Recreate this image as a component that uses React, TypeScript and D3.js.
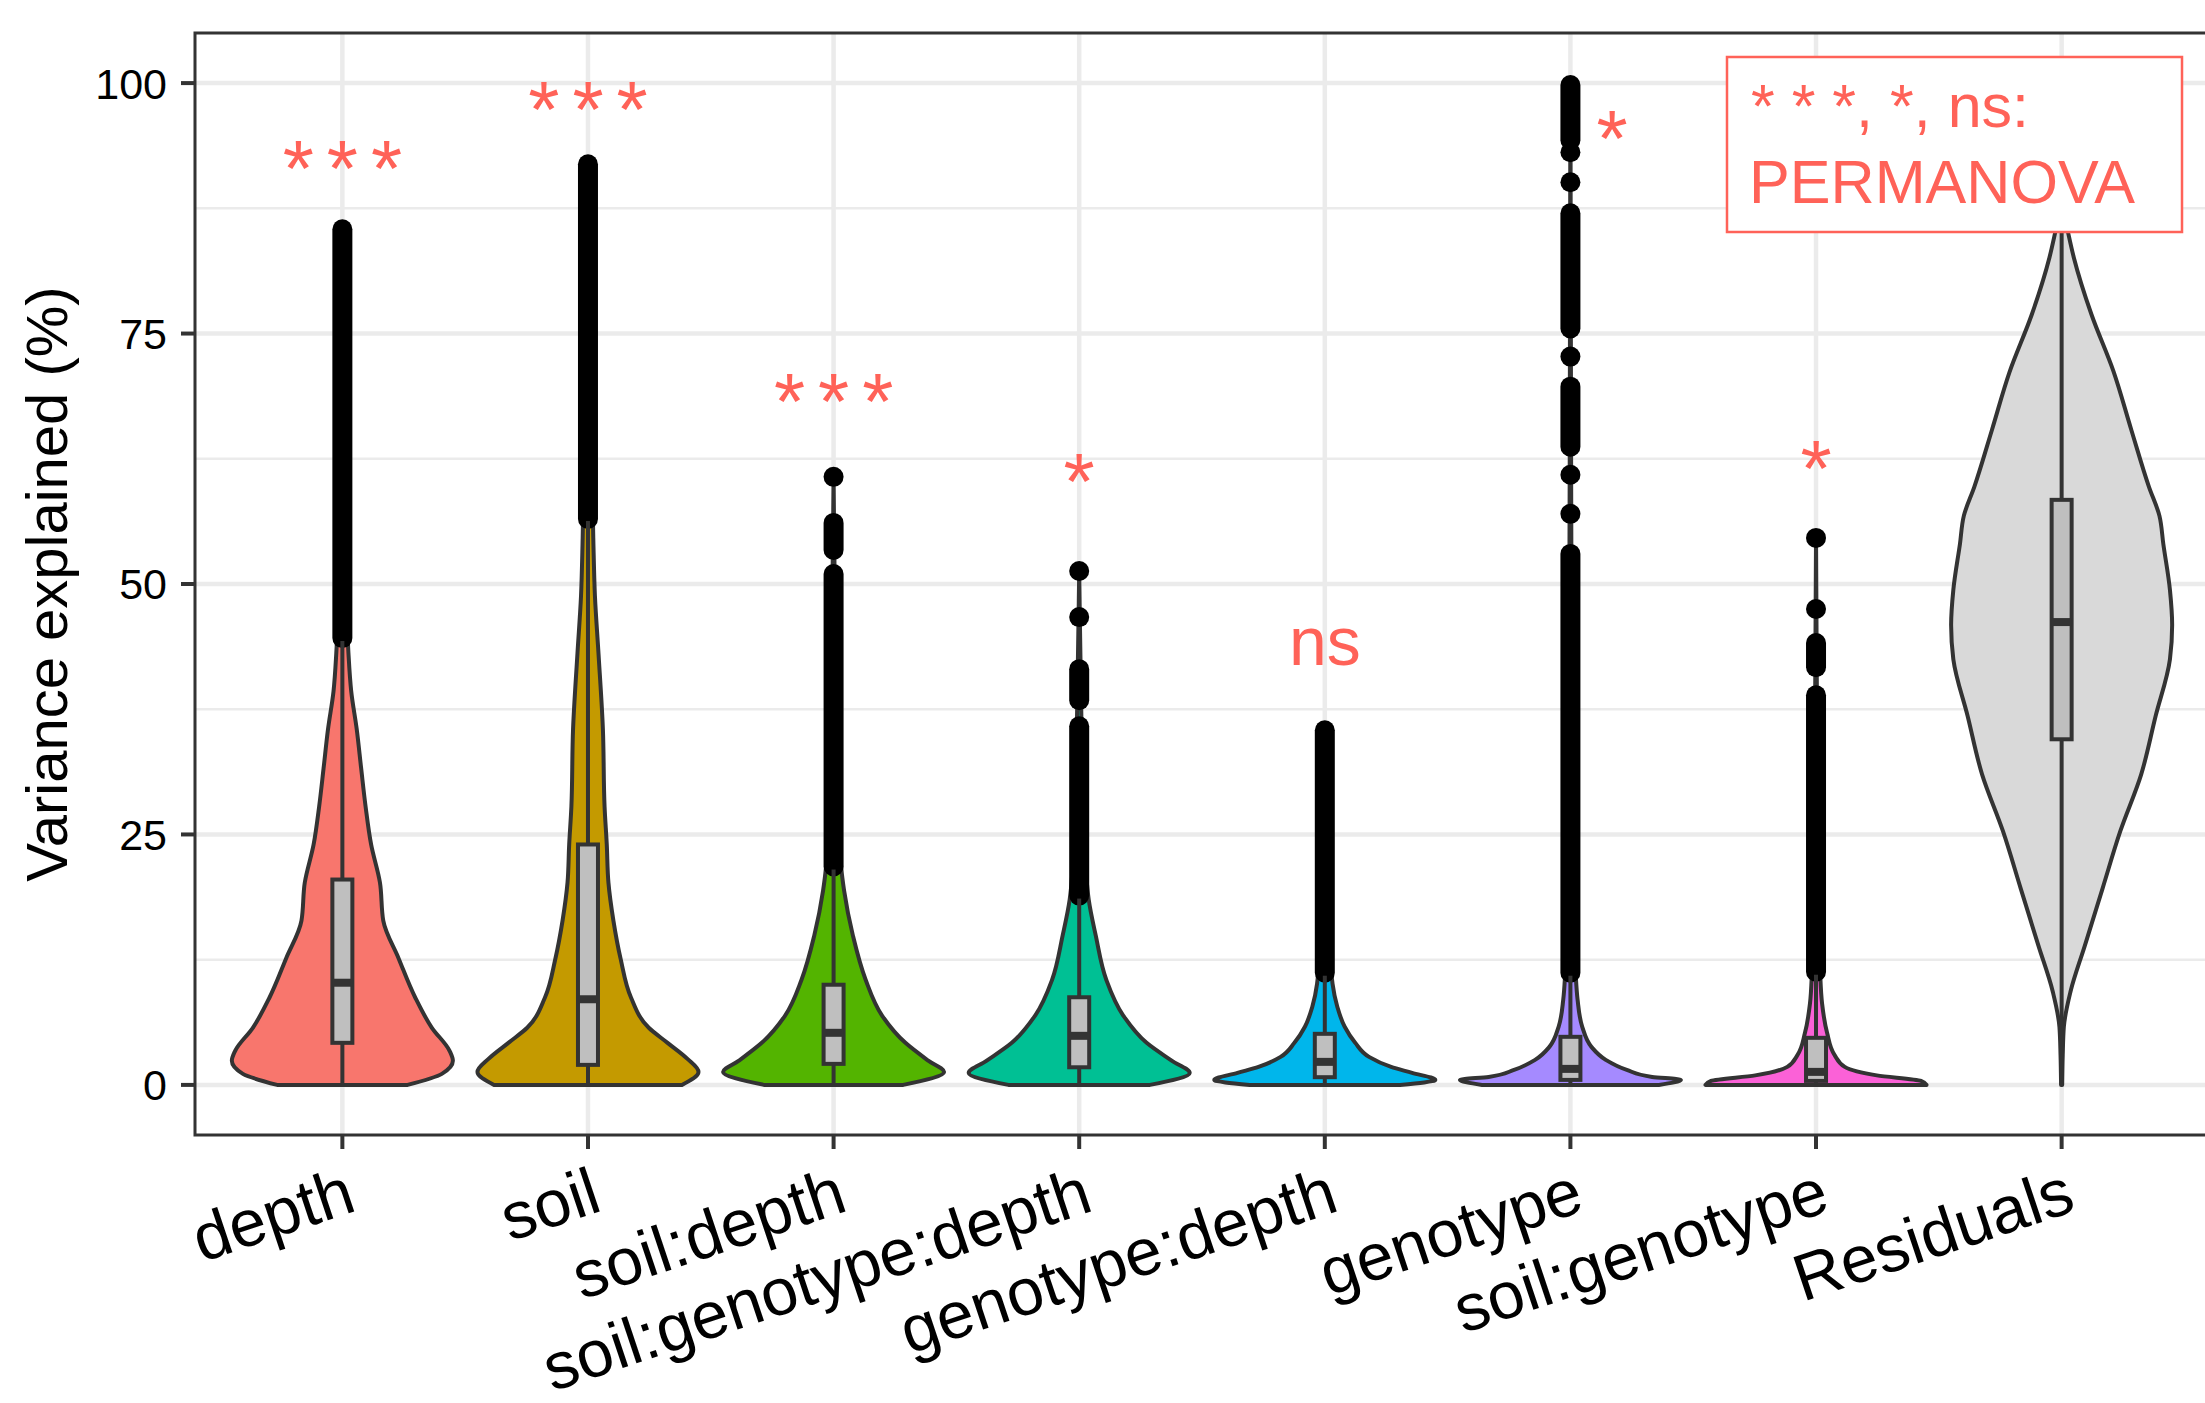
import * as d3 from "d3";

// categories and fills (ggplot hue palette for 7 + grey for residuals)
const categories = [
  "depth",
  "soil",
  "soil:depth",
  "soil:genotype:depth",
  "genotype:depth",
  "genotype",
  "soil:genotype",
  "Residuals",
];
const fills = ["#F8766D", "#C49A00", "#53B400", "#00C094", "#00B6EB", "#A58AFF", "#FB61D7", "#D9D9D9"];

// violin outlines: [value %, relative half width]
const violinProfiles: [number, number][][] = [
  [[0, 0.59], [1.1, 0.9], [2.4, 1.0], [3.4, 0.97], [5.7, 0.81], [8.7, 0.66], [12.6, 0.51], [16.4, 0.37], [20.2, 0.34], [24, 0.26], [27.8, 0.21], [31.6, 0.17], [35.5, 0.13], [39.3, 0.08], [43.1, 0.055], [50, 0.035], [60, 0.02], [75, 0.01], [85.4, 0]],
  [[0, 0.85], [1.3, 1.0], [2.6, 0.9], [4.2, 0.72], [5.7, 0.55], [8.7, 0.39], [12.6, 0.295], [16.4, 0.23], [20.2, 0.185], [24, 0.17], [27.8, 0.15], [35.5, 0.135], [43.1, 0.095], [48.8, 0.063], [54.6, 0.048], [65, 0.03], [80, 0.015], [91.9, 0]],
  [[0, 0.63], [1.3, 1.0], [2.4, 0.86], [4.2, 0.65], [6.9, 0.44], [10.5, 0.29], [14.9, 0.175], [19.4, 0.095], [21.6, 0.07], [30, 0.035], [45, 0.015], [60.7, 0]],
  [[0, 0.64], [1.2, 1.0], [2.4, 0.84], [4.2, 0.61], [6.9, 0.4], [10.5, 0.245], [14.9, 0.15], [18.5, 0.086], [25, 0.045], [40, 0.015], [51.3, 0]],
  [[0, 0.68], [0.5, 1.0], [1.2, 0.79], [1.8, 0.6], [2.8, 0.4], [4.2, 0.275], [5.8, 0.18], [7.8, 0.113], [10.1, 0.07], [15, 0.04], [25, 0.015], [35.4, 0]],
  [[0, 0.8], [0.5, 1.0], [0.8, 0.74], [1.5, 0.51], [2.5, 0.32], [3.8, 0.19], [5.8, 0.107], [8.5, 0.065], [10.8, 0.049], [20, 0.025], [40, 0.012], [70, 0.005], [100, 0]],
  [[0, 1.0], [0.4, 0.95], [0.95, 0.55], [1.8, 0.26], [3, 0.167], [5.2, 0.1], [8.1, 0.055], [11, 0.038], [20, 0.02], [35, 0.01], [54.5, 0]],
  [[0, 0.005], [3, 0.01], [5.8, 0.02], [9.3, 0.08], [13.9, 0.21], [19.6, 0.37], [25.3, 0.53], [31, 0.72], [36.8, 0.85], [42.5, 0.98], [45.9, 1.0], [49.4, 0.98], [54, 0.92], [56.8, 0.885], [59.7, 0.79], [65.4, 0.63], [71.2, 0.47], [76.9, 0.27], [82.6, 0.11], [85.5, 0.05], [88, 0]],
];

// boxplot: lower whisker, q1, median, q3, upper whisker
const boxStats = [
  [0, 4.2, 10.2, 20.5, 44.3],
  [0, 2.0, 8.55, 24.0, 56.3],
  [0, 2.1, 5.2, 10.0, 21.5],
  [0, 1.76, 4.9, 8.75, 18.6],
  [0, 0.77, 2.3, 5.1, 10.9],
  [0, 0.5, 1.6, 4.8, 10.9],
  [0, 0.4, 1.3, 4.7, 11.0],
  [0, 34.5, 46.2, 58.4, 87],
];

// outliers: dense runs of overlapping dots [from, to] and single dots
const outlierRuns: [number, number][][] = [
  [[44.6, 85.4]],
  [[56.5, 91.9]],
  [[21.8, 51.0], [53.4, 56.1]],
  [[18.9, 35.8], [38.4, 41.5]],
  [[11.2, 35.4]],
  [[11.2, 53], [63.7, 69.7], [75.5, 87], [94.3, 99.8]],
  [[11.3, 38.9], [41.7, 44.1]],
  [],
];
const outlierDots: number[][] = [
  [],
  [],
  [60.7],
  [46.7, 51.3],
  [],
  [57.0, 60.9, 72.7, 90.1, 93.1],
  [47.5, 54.6],
  [],
];

// PERMANOVA significance labels
const sigLabels = ["***", "***", "***", "*", "ns", "*", "*", ""];
const sigY = [88.7, 94.6, 65.5, 57.5, 41.9, 91.7, 58.8, 0];
const sigNudge = [0, 0, 0, 0, 0, 0.17, 0, 0];
const legendLines = ["* * *, *, ns:", "PERMANOVA"];

const yTicks = [0, 25, 50, 75, 100];
const yMinor = [12.5, 37.5, 62.5, 87.5];

const W = 2205;
const H = 1403;
const RED = "#FF6258";
const DARK = "#333333";
const AXIS_FONT = "'Liberation Sans', Arial, sans-serif";

export default function App() {
  const left = 195,
    right = 2209,
    top = 33,
    bottom = 1135;

  const x = d3.scalePoint<string>().domain(categories).range([left, right]).padding(0.6);
  const step = x.step();
  const y = d3.scaleLinear().domain([-5, 105]).range([bottom, top]);

  const maxHalf = 0.45 * step;
  const boxHalf = 10;
  const dotR = 10;
  const starSpacing = 13;

  return (
    <svg width={W} height={H} style={{ position: "absolute", left: 0, top: 0, background: "#fff" }}>
      <rect x={0} y={0} width={W} height={H} fill="#fff" />

      {/* grid */}
      <g>
        {yMinor.map((t) => (
          <line key={"mi" + t} x1={left} x2={right} y1={y(t)} y2={y(t)} stroke="#EBEBEB" strokeWidth={2.5} />
        ))}
        {yTicks.map((t) => (
          <line key={"ma" + t} x1={left} x2={right} y1={y(t)} y2={y(t)} stroke="#EBEBEB" strokeWidth={4.5} />
        ))}
        {categories.map((c) => (
          <line key={"v" + c} x1={x(c)} x2={x(c)} y1={top} y2={bottom} stroke="#EBEBEB" strokeWidth={4.5} />
        ))}
      </g>

      {/* violins */}
      {categories.map((c, i) => {
        const cx = x(c)!;
        const area = d3
          .area<[number, number]>()
          .y((d) => y(d[0]))
          .x0((d) => cx - d[1] * maxHalf)
          .x1((d) => cx + d[1] * maxHalf)
          .curve(d3.curveMonotoneY);
        return (
          <path
            key={"vio" + c}
            d={area(violinProfiles[i]) ?? ""}
            fill={fills[i]}
            stroke={DARK}
            strokeWidth={4}
            strokeLinejoin="round"
          />
        );
      })}

      {/* boxplots */}
      {categories.map((c, i) => {
        const cx = x(c)!;
        const [lo, q1, med, q3, hi] = boxStats[i];
        return (
          <g key={"box" + c}>
            {outlierRuns[i].map(([a, b], j) => (
              <line
                key={"r" + j}
                x1={cx}
                x2={cx}
                y1={y(a)}
                y2={y(b)}
                stroke="#000"
                strokeWidth={dotR * 2}
                strokeLinecap="round"
              />
            ))}
            {outlierDots[i].map((v, j) => (
              <circle key={"d" + j} cx={cx} cy={y(v)} r={dotR} fill="#000" />
            ))}
            <line x1={cx} x2={cx} y1={y(q3)} y2={y(hi)} stroke={DARK} strokeWidth={4} />
            <line x1={cx} x2={cx} y1={y(q1)} y2={y(lo)} stroke={DARK} strokeWidth={4} />
            <rect
              x={cx - boxHalf}
              y={y(q3)}
              width={boxHalf * 2}
              height={y(q1) - y(q3)}
              fill="#BFBFBF"
              stroke={DARK}
              strokeWidth={4}
            />
            <line x1={cx - boxHalf} x2={cx + boxHalf} y1={y(med)} y2={y(med)} stroke={DARK} strokeWidth={8} />
          </g>
        );
      })}

      {/* significance labels */}
      {categories.map((c, i) => {
        const lab = sigLabels[i];
        if (!lab) return null;
        const stars = lab.startsWith("*");
        return (
          <text
            key={"sig" + c}
            x={x(c)! + sigNudge[i] * step + (stars ? starSpacing / 2 : 0)}
            y={y(sigY[i])}
            textAnchor="middle"
            fontFamily={AXIS_FONT}
            fontSize={stars ? 80 : 68}
            letterSpacing={stars ? starSpacing : 0}
            fill={RED}
          >
            {lab}
          </text>
        );
      })}

      {/* legend label */}
      <g>
        <rect x={1727} y={57} width={455} height={175} fill="#fff" stroke={RED} strokeWidth={2.5} />
        <text x={1751} y={127} fontFamily={AXIS_FONT} fontSize={61} fill={RED}>
          {legendLines[0]}
        </text>
        <text x={1749} y={203} fontFamily={AXIS_FONT} fontSize={61} fill={RED} textLength={386} lengthAdjust="spacingAndGlyphs">
          {legendLines[1]}
        </text>
      </g>

      {/* panel border */}
      <rect x={left} y={top} width={right - left} height={bottom - top} fill="none" stroke={DARK} strokeWidth={3} />

      {/* y axis */}
      <g>
        {yTicks.map((t) => (
          <g key={"yt" + t}>
            <line x1={left - 14} x2={left} y1={y(t)} y2={y(t)} stroke={DARK} strokeWidth={4} />
            <text
              x={left - 28}
              y={y(t)}
              dy="0.36em"
              textAnchor="end"
              fontFamily={AXIS_FONT}
              fontSize={43}
              fill="#000"
            >
              {t}
            </text>
          </g>
        ))}
        <text
          transform={`translate(46, ${(top + bottom) / 2}) rotate(-90)`}
          textAnchor="middle"
          dy="0.36em"
          fontFamily={AXIS_FONT}
          fontSize={58}
          fill="#000"
        >
          Variance explained (%)
        </text>
      </g>

      {/* x axis */}
      <g>
        {categories.map((c) => (
          <g key={"xt" + c}>
            <line x1={x(c)} x2={x(c)} y1={bottom} y2={bottom + 14} stroke={DARK} strokeWidth={4} />
            <text
              transform={`translate(${x(c)! + 16}, ${bottom + 75}) rotate(-18.5)`}
              textAnchor="end"
              fontFamily={AXIS_FONT}
              fontSize={66}
              fill="#000"
            >
              {c}
            </text>
          </g>
        ))}
      </g>
    </svg>
  );
}
